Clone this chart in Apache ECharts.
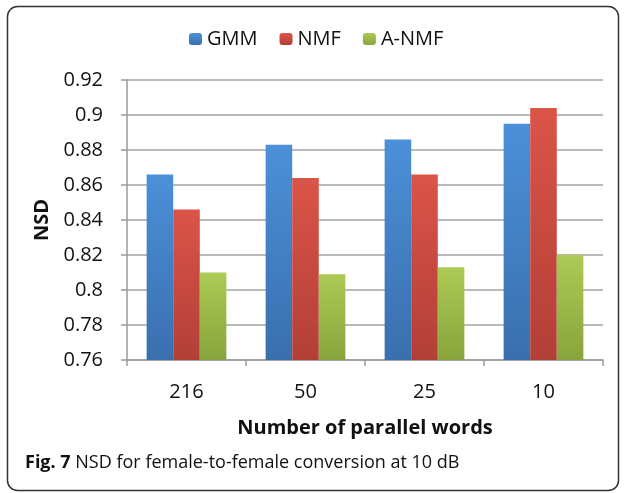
<!DOCTYPE html>
<html>
<head>
<meta charset="utf-8">
<script src="https://cdn.jsdelivr.net/npm/echarts@6/dist/echarts.min.js"></script>
<style>
	html, body { margin: 0; padding: 0; background: #fff; }
	#chart { width: 626px; height: 493px; }
</style>
</head>
<body>
<div id="chart"></div>
<script>
//数据
var categories = ['216', '50', '25', '10'];
var seriesNames = ['GMM', 'NMF', 'A-NMF'];
var gmmValues = [0.866, 0.883, 0.886, 0.895];
var nmfValues = [0.846, 0.864, 0.866, 0.904];
var anmfValues = [0.810, 0.809, 0.813, 0.820];
var yTicks = { min: 0.76, max: 0.92, step: 0.02 };

(function(){
	var myChart = echarts.init(document.getElementById('chart'));
	var font = '"Open Sans", "DejaVu Sans", sans-serif';

	function grad(top, bottom) {
		return new echarts.graphic.LinearGradient(0, 0, 0, 1, [
			{ offset: 0, color: top },
			{ offset: 1, color: bottom }
		]);
	}
	var colors = [
		grad('#4b90d8', '#3a6fae'),
		grad('#db5448', '#b23f37'),
		grad('#acca55', '#88a43c')
	];
	var values = [gmmValues, nmfValues, anmfValues];

	var series = [];
	for (var i = 0; i < seriesNames.length; i++) {
		series.push({
			name: seriesNames[i],
			type: 'bar',
			barGap: 0,
			barCategoryGap: '33%',
			itemStyle: { color: colors[i] },
			data: values[i]
		});
	}

	var option = {
		animation: false,
		textStyle: { fontFamily: font },
		legend: {
			data: seriesNames,
			left: 184,
			top: 24,
			itemWidth: 13,
			itemHeight: 12,
			itemGap: 22,
			textStyle: { fontFamily: font, fontSize: 20, color: '#111' }
		},
		grid: { left: 127, right: 23, top: 80, bottom: 133 },
		xAxis: {
			type: 'category',
			data: categories,
			axisLine: { lineStyle: { color: '#9a9a9a', width: 1.5 } },
			axisTick: { show: true, length: 6, lineStyle: { color: '#9a9a9a', width: 1.5 } },
			axisLabel: { fontFamily: font, fontSize: 20, color: '#111', margin: 22 },
			name: 'Number of parallel words',
			nameLocation: 'middle',
			nameGap: 58,
			nameTextStyle: { fontFamily: font, fontSize: 20, fontWeight: 'bold', color: '#111' }
		},
		yAxis: {
			type: 'value',
			min: yTicks.min,
			max: yTicks.max,
			interval: yTicks.step,
			axisLine: { show: true, lineStyle: { color: '#9a9a9a', width: 1.5 } },
			axisTick: { show: true, length: 6, lineStyle: { color: '#9a9a9a', width: 1.5 } },
			splitLine: { lineStyle: { color: '#a3a3a3', width: 1.5 } },
			axisLabel: { fontFamily: font, fontSize: 20, color: '#111', margin: 24 },
			name: 'NSD',
			nameLocation: 'middle',
			nameGap: 74,
			nameRotate: 90,
			nameTextStyle: { fontFamily: font, fontSize: 20, fontWeight: 'bold', color: '#111' }
		},
		series: series,
		graphic: [
			{
				type: 'rect',
				shape: { x: 7.5, y: 6.5, width: 611, height: 484, r: 10 },
				style: { fill: 'none', stroke: '#333', lineWidth: 1.5 },
				silent: true
			},
			{
				type: 'text',
				left: 25,
				top: 454,
				style: {
					text: '{b|Fig. 7} NSD for female-to-female conversion at 10 dB',
					font: '18px ' + font,
					fill: '#111',
					rich: {
						b: { fontFamily: font, fontSize: 18, fontWeight: 'bold', fill: '#111' }
					}
				}
			}
		]
	};
	myChart.setOption(option);
}());
</script>
</body>
</html>
